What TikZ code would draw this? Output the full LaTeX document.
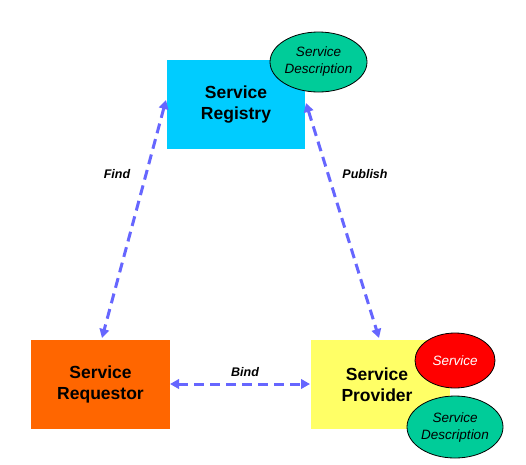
\documentclass[tikz,border=0pt]{standalone}
\usepackage{fontspec}
\setmainfont{Liberation Sans}
\usetikzlibrary{arrows.meta,shapes.geometric}
\definecolor{regc}{HTML}{00CCFF}
\definecolor{reqc}{HTML}{FF6600}
\definecolor{provc}{HTML}{FFFF66}
\definecolor{descc}{HTML}{00CC99}
\definecolor{servc}{HTML}{FF0000}
\definecolor{linkc}{HTML}{6666FF}
\tikzset{
  box/.style={draw=none, inner sep=0pt, align=center, font=\fontsize{17.5}{20.5}\selectfont\bfseries},
  oval/.style={ellipse, draw=black, line width=0.8pt, inner sep=0pt, align=center, font=\fontsize{13.5}{17}\selectfont\itshape},
  link/.style={draw=linkc, line width=3pt, dash pattern=on 10pt off 6pt, {Triangle[length=9pt,width=9.5pt]}-{Triangle[length=9pt,width=9.5pt]}},
  lbl/.style={font=\fontsize{12.5}{14}\selectfont\bfseries\itshape, inner sep=0pt}
}
\begin{document}
\begin{tikzpicture}[x=1pt,y=-1pt]
\useasboundingbox (0,0) rectangle (526,464);
% boxes
\node[box, fill=regc, minimum width=138pt, minimum height=89pt] (reg) at (236,104.5) {Service\\Registry};
\node[box, fill=reqc, minimum width=139pt, minimum height=89pt] (req) at (100.5,384.5) {Service\\Requestor};
\node[box, fill=provc, minimum width=139pt, minimum height=89pt] (prov) at (380.5,384.5) {};
\node[box] (provt) at (377,384.5) {Service\\Provider};
% ellipses
\node[oval, fill=descc, minimum width=97pt, minimum height=60pt] (regd) at (318.5,62) {Service\\Description};
\node[oval, fill=servc, minimum width=80pt, minimum height=55pt, text=white] (serv) at (455,360.5) {Service};
\node[oval, fill=descc, minimum width=96pt, minimum height=62pt] (provd) at (455,427) {Service\\Description};
% connectors
\coordinate (f1) at (166,100);
\coordinate (f2) at (102,338);
\coordinate (p1) at (306,103);
\coordinate (p2) at (379,338);
\coordinate (b1) at (170,384);
\coordinate (b2) at (310,384);
\path[link] (f1) -- (f2);
\path[link] (p1) -- (p2);
\path[link] (b1) -- (b2);
% labels
\node[lbl] (lf) at (117,174) {Find};
\node[lbl] (lp) at (365,174) {Publish};
\node[lbl] (lb) at (245,372) {Bind};
\end{tikzpicture}
\end{document}
